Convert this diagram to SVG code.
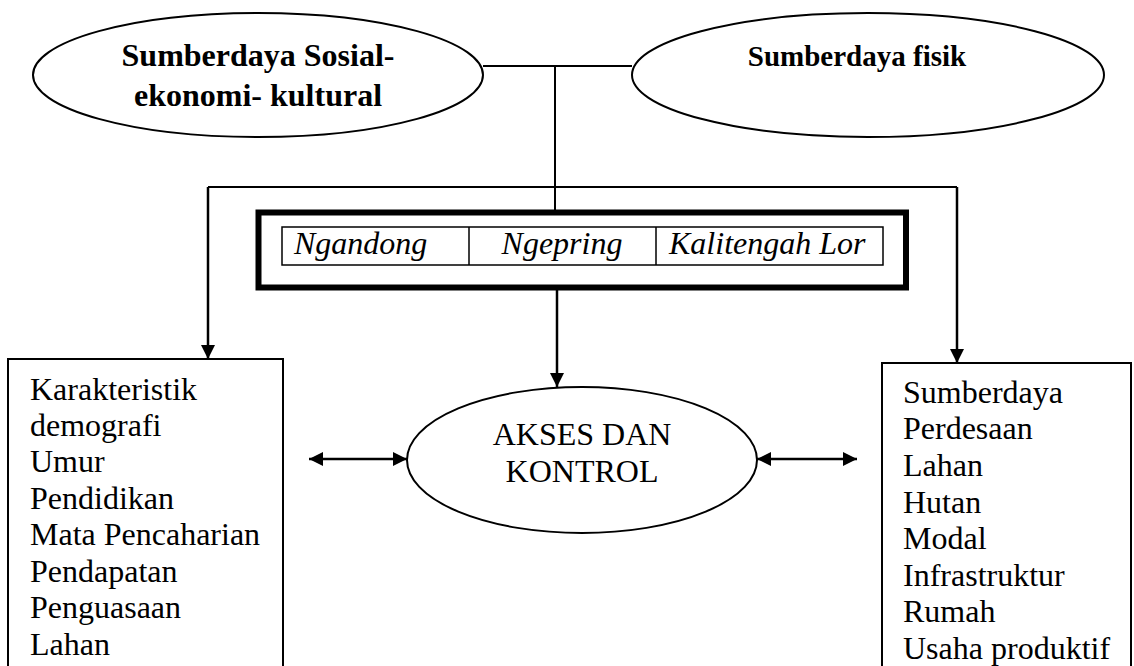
<svg xmlns="http://www.w3.org/2000/svg" width="1134" height="666" viewBox="0 0 1134 666">
<style>
.ln{fill:none;stroke:#000;stroke-width:2}
.ar{fill:none;stroke:#000;stroke-width:2.5}
.sh{fill:#fff;stroke:#000;stroke-width:2}
.t{font-family:"Liberation Serif","Times New Roman",serif;font-size:32px;fill:#000}
.b{font-weight:bold}
.i{font-style:italic}
</style>
<defs>
<marker id="ah" viewBox="0 0 14 14" refX="14" refY="7" markerWidth="14" markerHeight="14" markerUnits="userSpaceOnUse" orient="auto-start-reverse">
<path d="M0,0 L14,7 L0,14 Z" fill="#000"/>
</marker>
</defs>
<rect width="1134" height="666" fill="#fff"/>
<g id="connectors">
<path class="ln" d="M483,66 H632"/>
<path class="ln" d="M555,66 V212"/>
<path class="ln" d="M208,187 H957"/>
<path class="ar" d="M208,187 V359" marker-end="url(#ah)"/>
<path class="ar" d="M957,187 V363" marker-end="url(#ah)"/>
<path class="ar" d="M557,290 V387" marker-end="url(#ah)"/>
<path class="ar" d="M309,459 H407" marker-start="url(#ah)" marker-end="url(#ah)"/>
<path class="ar" d="M757,459 H857" marker-start="url(#ah)" marker-end="url(#ah)"/>
</g>
<g id="sosial">
<ellipse class="sh" cx="258" cy="75" rx="225" ry="62"/>
<text class="t b" x="258" y="66" text-anchor="middle">Sumberdaya Sosial-</text>
<text class="t b" x="258" y="106" text-anchor="middle">ekonomi- kultural</text>
</g>
<g id="fisik">
<ellipse class="sh" cx="868" cy="75" rx="236" ry="62"/>
<text class="t b" x="857" y="66" text-anchor="middle" style="font-size:29px">Sumberdaya fisik</text>
</g>
<g id="desa">
<rect x="258.5" y="212.5" width="647.5" height="75" fill="#fff" stroke="#000" stroke-width="6"/>
<rect class="sh" x="282" y="227" width="601" height="38" style="stroke-width:1.5"/>
<path class="ln" d="M469,227 V265 M656,227 V265" style="stroke-width:1.5"/>
<text class="t i" x="294" y="254">Ngandong</text>
<text class="t i" x="562" y="254" text-anchor="middle">Ngepring</text>
<text class="t i" x="669" y="254">Kalitengah Lor</text>
</g>
<g id="akses">
<ellipse class="sh" cx="582" cy="460" rx="175" ry="73"/>
<text class="t" x="582" y="445" text-anchor="middle">AKSES DAN</text>
<text class="t" x="582" y="482" text-anchor="middle">KONTROL</text>
</g>
<g id="demografi">
<rect class="sh" x="8" y="359" width="275" height="320"/>
<text class="t" x="30" y="400">Karakteristik</text>
<text class="t" x="30" y="436">demografi</text>
<text class="t" x="30" y="472">Umur</text>
<text class="t" x="30" y="509">Pendidikan</text>
<text class="t" x="30" y="545">Mata Pencaharian</text>
<text class="t" x="30" y="582">Pendapatan</text>
<text class="t" x="30" y="618">Penguasaan</text>
<text class="t" x="30" y="655">Lahan</text>
</g>
<g id="perdesaan">
<rect class="sh" x="882" y="363" width="249" height="320"/>
<text class="t" x="903" y="403">Sumberdaya</text>
<text class="t" x="903" y="439">Perdesaan</text>
<text class="t" x="903" y="476">Lahan</text>
<text class="t" x="903" y="513">Hutan</text>
<text class="t" x="903" y="549">Modal</text>
<text class="t" x="903" y="586">Infrastruktur</text>
<text class="t" x="903" y="622">Rumah</text>
<text class="t" x="903" y="659">Usaha produktif</text>
</g>
</svg>
